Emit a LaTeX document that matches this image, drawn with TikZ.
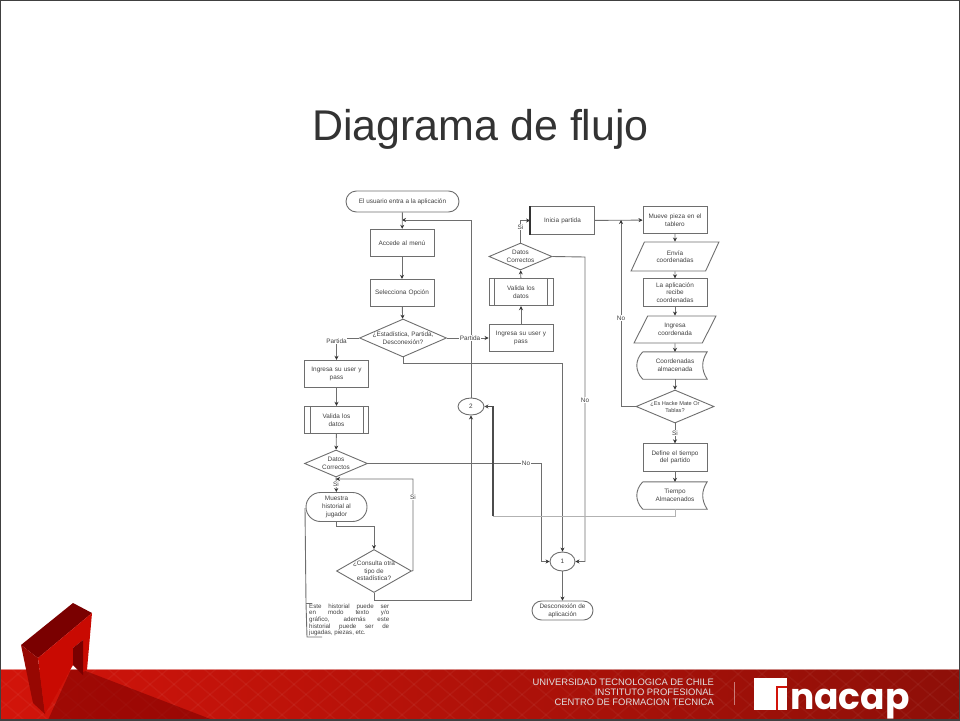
\documentclass[tikz,border=0pt]{standalone}
\usepackage{fontspec}
\setmainfont{Liberation Sans}
\newfontfamily\logofont{Poppins}
\usetikzlibrary{arrows.meta,calc,shapes.geometric,shapes.misc}
\definecolor{bandred}{HTML}{D2140A}
\definecolor{banddark}{HTML}{8E0F08}
\definecolor{logored}{HTML}{C90A02}
\definecolor{logodark}{HTML}{7A0000}
\definecolor{flowgray}{HTML}{6E6E6E}
\tikzset{
    small text/.style={font=\fontsize{6.4}{7.6}\selectfont,text=black!75,align=center},
    every label/.style={small text},
    proc node/.style={rectangle,draw=flowgray,line width=0.9pt,small text,minimum width=#1,minimum height=27.5pt,inner sep=1pt,text width=#1-6pt},
    proc node/.default=64pt,
    end node/.style={rounded rectangle,draw=flowgray,line width=0.9pt,small text,inner sep=1pt},
    dec node/.style={diamond,draw=flowgray,line width=0.9pt,inner sep=0pt},
    data node/.style={trapezium,trapezium stretches=true,draw=flowgray,line width=0.9pt,inner sep=0pt,small text},
    link node/.style={ellipse,draw=flowgray,line width=0.9pt,small text,inner sep=0pt},
    tag/.style={small text,fill=white,inner sep=0.5pt},
    flow/.style={draw=flowgray,line width=0.9pt},
    flow arrow/.style={flow,-{Stealth[length=4pt,width=4pt,color=black!80]}}
    }

\begin{document}
\begin{tikzpicture}[x=1pt,y=-1pt]
                \useasboundingbox (0,0) rectangle (960,720);
                % red band and logo
                \shade[left color=bandred,middle color=bandred,right color=banddark,shading angle=90] (0,669) rectangle (960,720);
                \begin{scope}
                    \clip (0,669) rectangle (960,720);
                    \foreach \x in {-60,-36,...,1000}{
                        \draw[white,opacity=0.04,line width=1.5pt] (\x,720) -- (\x+60,669);
                        \draw[white,opacity=0.04,line width=1.5pt] (\x,669) -- (\x+60,720);
                    }
                    \fill[logodark,opacity=0.55] (83,670) -- (213,720) -- (48,720) -- (73,665) -- cycle;
                \end{scope}
                \draw[white,opacity=0.5,line width=0.8pt] (0,669) -- (960,669);
                \fill[logodark] (21,645) -- (73,603) -- (92,613) -- (38,658) -- cycle;
                \fill[logored!75!black] (21,645) -- (38,658) -- (45,714) -- (33,703) -- cycle;
                \fill[logored] (38,658) -- (92,613) -- (87,670) -- (83,672) -- (83,640) -- (73,648) -- (73,665) -- (45,714) -- cycle;
                \fill[logodark] (73,648) -- (83,640) -- (83,675) -- (73,665) -- cycle;

                % footer
                \node(uni)[font=\fontsize{9.4}{10.2}\selectfont,text=white!88!black,align=right,anchor=east,inner sep=0pt] at (714,692){UNIVERSIDAD TECNOLOGICA DE CHILE\\INSTITUTO PROFESIONAL\\CENTRO DE FORMACION TECNICA};
                \coordinate(septop) at (734,682);
                \coordinate(sepbot) at (734,705);
                \draw[white,opacity=0.45,line width=0.8pt] (septop) -- (sepbot);
                \fill[white] (754,678) rectangle (787,710);
                \draw[bandred,line width=1.6pt] (787,687) -- (777,687) -- (777,710);
                \node(brand)[font=\logofont\bfseries\fontsize{36}{36}\selectfont,text=white,anchor=base west,inner sep=0pt,text height=22pt,text depth=7pt] at (790,709.5){nacap};

                % title
                \node(title)[font=\fontsize{43}{46}\selectfont,text=black!80] at (480.5,129){Diagrama de flujo};

                % left column
                \node(start)[end node,minimum width=115pt,minimum height=21pt] at (402.5,201.5){El usuario entra a la aplicación};
                \node(menu)[proc node] at (402,243){Accede al menú};
                \node(opcion)[proc node] at (402,293){Selecciona Opción};
                \node(decmenu)[dec node,minimum width=87pt,minimum height=38pt,label=center:{¿Estadística, Partida,\\Desconexión?}] at (403,338){};
                \node(userleft)[proc node] at (336.5,374){Ingresa su user y\\pass};
                \node(validaleft)[proc node] at (336.5,420){Valida los\\datos};
                \node(decleft)[dec node,minimum width=63pt,minimum height=27pt,label=center:{Datos\\Correctos}] at (336,463.5){};
                \node(historial)[end node,minimum width=63pt,minimum height=29pt] at (336.5,507){Muestra\\historial al\\jugador};
                \node(decotra)[dec node,minimum width=75pt,minimum height=43pt,label=center:{¿Consulta otra\\tipo de\\estadística?}] at (374,571){};
                \node(note)[small text,font=\fontsize{6.2}{6.6}\selectfont,align=justify,anchor=north west,text width=80pt,inner sep=0pt] at (309,603.5){Este historial puede ser\linebreak en modo texto y/o\linebreak gráfico, además este\linebreak historial puede ser de\linebreak jugadas, piezas, etc.};

                % connectors 1 and 2
                \node(linkb)[link node,minimum width=26pt,minimum height=17pt] at (471,406.5){2};
                \node(linka)[link node,minimum width=25pt,minimum height=19pt] at (562.5,561.5){1};
                \node(fin)[end node,minimum width=63pt,minimum height=19pt] at (562.5,610.5){Desconexión de\\aplicación};

                % middle column
                \node(userright)[proc node] at (521,338){Ingresa su user y\\pass};
                \node(validaright)[proc node] at (521,292){Valida los\\datos};
                \node(decright)[dec node,minimum width=63pt,minimum height=27pt,label=center:{Datos\\Correctos}] at (520.5,256.5){};
                \node(inicia)[proc node] at (562.5,220.5){Inicia partida};

                % right column
                \node(mueve)[proc node] at (675,220){Mueve pieza en el\\tablero};
                \node(envia)[data node,minimum width=88pt,minimum height=29pt,trapezium left angle=57,trapezium right angle=123] at (675,256.5){Envía\\coordenadas};
                \node(lee)[proc node] at (675,292.5){La aplicación\\recibe\\coordenadas};
                \node(ingresa)[data node,minimum width=82pt,minimum height=27pt,trapezium left angle=55,trapezium right angle=125] at (675,329.5){Ingresa\\coordenada};
                \node(coord)[small text,minimum width=64pt,minimum height=27pt,inner sep=0pt] at (675,365.5){Coordenadas\\almacenada};
                \node(decmate)[dec node,minimum width=78pt,minimum height=33pt,label={[font=\fontsize{5.6}{7}\selectfont]center:{¿Es Hacke Mate Or\\Tablas?}}] at (675,406.5){};
                \node(define)[proc node] at (675,457.5){Define el tiempo\\del partido};
                \node(tiempo)[small text,minimum width=64pt,minimum height=27pt,inner sep=0pt] at (675,495.5){Tiempo\\Almacenados};

                % bars inside boxes
                \foreach \n in {validaleft,validaright}{
                    \draw[flow] ($(\n.north west)+(6,0)$) -- ($(\n.south west)+(6,0)$);
                    \draw[flow] ($(\n.north east)+(-6,0)$) -- ($(\n.south east)+(-6,0)$);
                }
                \draw[draw=black!80,line width=1.2pt] (inicia.north west) -- (inicia.south west);
                \foreach \n in {coord,tiempo}{
                    \draw[flow] (\n.north west) -- (\n.north east) .. controls +(-6,9) and +(-6,-9) .. (\n.south east) -- (\n.south west) .. controls +(-8,-8) and +(-8,8) .. (\n.north west);
                }

                % free corners of connectors
                \coordinate(backmenu) at (402,220);
                \coordinate(backup) at (471,220);
                \coordinate(partidaleft) at (336.5,338);
                \coordinate(menudown) at (403,363);
                \coordinate(menuright) at (562.5,363);
                \coordinate(decrightout) at (585,257);
                \coordinate(decrightdown) at (585,561.5);
                \coordinate(decrightup) at (520.5,220.5);
                \coordinate(matecorner) at (621,406.5);
                \coordinate(mateup) at (621,220);
                \coordinate(tiempodown) at (675,516);
                \coordinate(tiempoleft) at (493,516);
                \coordinate(tiempoup) at (493,406.5);
                \coordinate(decleftout) at (541,463.5);
                \coordinate(decleftdown) at (541,561.5);
                \coordinate(histdown) at (336.5,526);
                \coordinate(histright) at (374,526);
                \coordinate(otraout) at (413,570.5);
                \coordinate(otraup) at (413,479);
                \coordinate(otraleft) at (336,479);
                \coordinate(otradown) at (374,600);
                \coordinate(otrarun) at (471,600);
                \coordinate(notestart) at (305,508);
                \coordinate(notetop) at (306,603);
                \coordinate(notetopend) at (312,603);
                \coordinate(notebot) at (307,637);
                \coordinate(notebotend) at (322,637);

                % connector lines
                \draw[flow arrow] (start) -- (menu);
                \draw[flow arrow] (menu) -- (opcion);
                \draw[flow arrow] (opcion) -- (decmenu);
                \draw[flow arrow] (linkb.north) -- (backup) -- (backmenu);
                \draw[flow arrow] (decmenu.west) -- (partidaleft) -- (userleft.north);
                \draw[flow arrow] (decmenu.east) -- (userright.west);
                \draw[flow arrow] (decmenu.south) -- (menudown) -- (menuright) -- (linka.north);
                \draw[flow arrow] (userleft) -- (validaleft);
                \draw[flow arrow] (validaleft) -- (decleft);
                \draw[flow arrow] (decleft) -- (historial);
                \draw[flow arrow] (historial.south) -- (histdown) -- (histright) -- (decotra.north);
                \draw[flow arrow] (decotra.east) -- (otraout) -- (otraup) -- (otraleft);
                \draw[flow arrow] (decotra.south) -- (otradown) -- (otrarun) -- (linkb.south);
                \draw[flow arrow] (decleft.east) -- (decleftout) -- (decleftdown) -- (linka.west);
                \draw[flow arrow] (linka) -- (fin);
                \draw[flow arrow] (userright) -- (validaright);
                \draw[flow arrow] (validaright) -- (decright);
                \draw[flow arrow] (decright.north) -- (decrightup) -- (inicia.west);
                \draw[flow arrow] (decright.east) -- (decrightout) -- (decrightdown) -- (linka.east);
                \draw[flow arrow] (inicia) -- (mueve);
                \draw[flow arrow] (mueve) -- (envia);
                \draw[flow arrow] (envia) -- (lee);
                \draw[flow arrow] (lee) -- (ingresa);
                \draw[flow arrow] (ingresa) -- (coord);
                \draw[flow arrow] (coord) -- (decmate);
                \draw[flow arrow] (decmate.west) -- (matecorner) -- (mateup);
                \draw[flow arrow] (decmate) -- (define);
                \draw[flow arrow] (define) -- (tiempo);
                \draw[draw=black!30,line width=1pt] (tiempo.south) -- (tiempodown) -- (tiempoleft);
                \draw[draw=black!70,line width=1.2pt,-{Stealth[length=4pt,width=4pt]}] (tiempoleft) -- (tiempoup) -- (linkb.east);
                \draw[flow] (notestart) -- (notetop) -- (notebot) -- (notebotend);
                \draw[flow] (notetop) -- (notetopend);

                % labels on the lines
                \node(tagpartl)[tag] at (336.5,341){Partida};
                \node(tagpartr)[tag] at (470,338){Partida};
                \node(tagsileft)[tag] at (336,484){Si};
                \node(tagnoleft)[tag] at (526,463.5){No};
                \node(tagsiotra)[tag] at (413,497){Si};
                \node(tagnomid)[tag] at (585,400){No};
                \node(tagsimid)[tag] at (520.5,227){Si};
                \node(tagnomate)[tag] at (621,318){No};
                \node(tagsimate)[tag] at (675,433){Si};

                % frame
                \draw[draw=black!75,line width=1.5pt] (0,0) rectangle (960,720);
            \end{tikzpicture}
\end{document}
